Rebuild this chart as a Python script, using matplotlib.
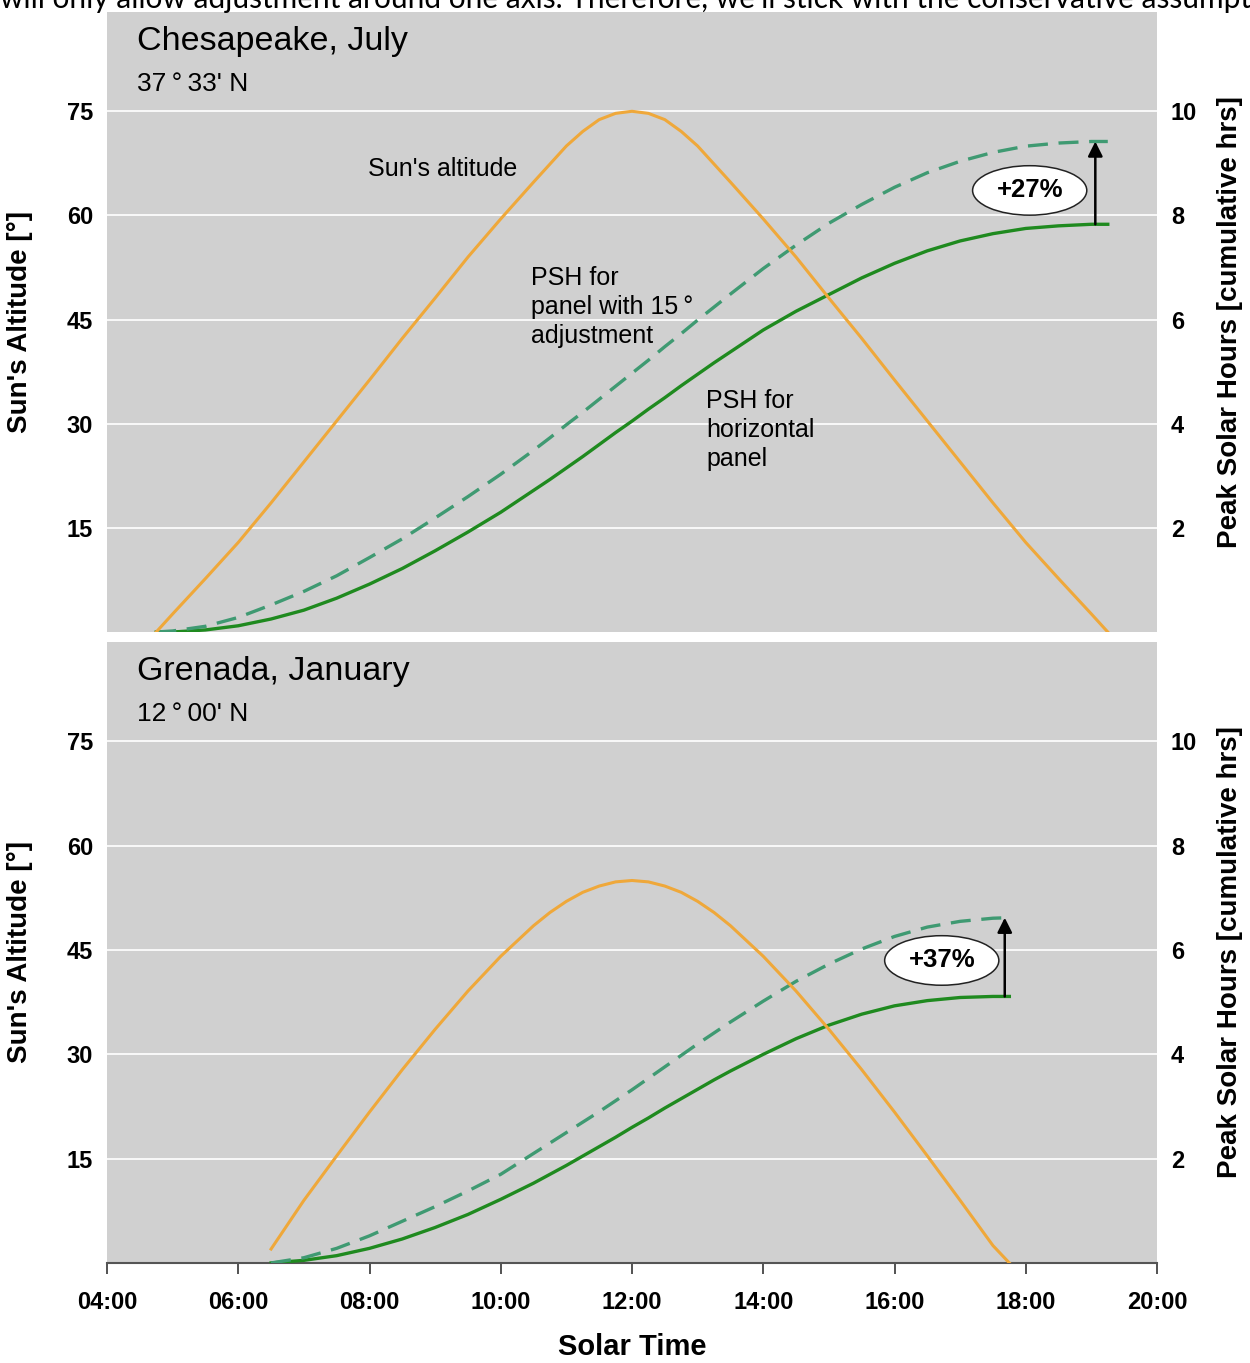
import matplotlib
matplotlib.use("Agg")
import matplotlib.pyplot as plt
from matplotlib.patches import Ellipse

# --- data ------------------------------------------------------------------
# Chesapeake, July
ches_time = [4.75, 5.0, 5.5, 6.0, 6.5, 7.0, 7.5, 8.0, 8.5, 9.0, 9.5, 10.0, 10.5, 10.75,
             11.0, 11.25, 11.5, 11.75, 12.0, 12.25, 12.5, 12.75, 13.0, 13.25, 13.5,
             14.0, 14.5, 15.0, 15.5, 16.0, 16.5, 17.0, 17.5, 18.0, 18.5, 19.0, 19.25]
ches_alt = [0, 2.6, 7.7, 12.9, 18.6, 24.5, 30.4, 36.3, 42.3, 48.1, 54.0, 59.5, 64.8, 67.4,
            70.0, 72.1, 73.8, 74.7, 75.0, 74.7, 73.8, 72.1, 70.0, 67.4, 64.8,
            59.5, 54.0, 48.1, 42.3, 36.3, 30.4, 24.5, 18.6, 12.9, 7.7, 2.6, 0]
ches_psh_flat = [0, 0.0, 0.04, 0.12, 0.25, 0.42, 0.65, 0.92, 1.22, 1.56, 1.92, 2.30, 2.72, 2.93,
                 3.15, 3.37, 3.60, 3.83, 4.05, 4.28, 4.50, 4.73, 4.95, 5.17, 5.38,
                 5.80, 6.16, 6.48, 6.80, 7.08, 7.32, 7.51, 7.65, 7.75, 7.80, 7.83, 7.83]
ches_psh_tilt = [0, 0.02, 0.11, 0.28, 0.52, 0.78, 1.08, 1.43, 1.79, 2.19, 2.60, 3.03, 3.49, 3.73,
                 3.98, 4.22, 4.47, 4.72, 4.97, 5.22, 5.48, 5.73, 5.99, 6.24, 6.49,
                 6.98, 7.43, 7.85, 8.21, 8.54, 8.82, 9.04, 9.21, 9.33, 9.39, 9.42, 9.42]

# Grenada, January
gren_time = [6.5, 7.0, 7.5, 8.0, 8.5, 9.0, 9.5, 10.0, 10.5, 10.75, 11.0, 11.25, 11.5, 11.75,
             12.0, 12.25, 12.5, 12.75, 13.0, 13.25, 13.5, 14.0, 14.5, 15.0, 15.5, 16.0,
             16.5, 17.0, 17.5, 17.75]
gren_alt = [2.0, 9.0, 15.4, 21.7, 27.8, 33.6, 39.1, 44.1, 48.5, 50.4, 52.0, 53.3, 54.2, 54.8,
            55.0, 54.8, 54.2, 53.3, 52.0, 50.4, 48.5, 44.1, 39.1, 33.6, 27.8, 21.7,
            15.4, 9.0, 2.5, 0]
gren_psh_flat = [0, 0.05, 0.14, 0.28, 0.46, 0.68, 0.93, 1.22, 1.53, 1.70, 1.87, 2.05, 2.23, 2.41,
                 2.60, 2.78, 2.97, 3.15, 3.33, 3.51, 3.68, 4.00, 4.30, 4.56, 4.77, 4.93,
                 5.03, 5.09, 5.11, 5.11]
gren_psh_tilt = [0, 0.10, 0.28, 0.52, 0.80, 1.08, 1.38, 1.70, 2.10, 2.30, 2.50, 2.70, 2.90, 3.11,
                 3.32, 3.54, 3.76, 3.98, 4.20, 4.41, 4.62, 5.02, 5.40, 5.73, 6.02, 6.26,
                 6.44, 6.55, 6.61, 6.62]

alt_ticks = [15, 30, 45, 60, 75]
psh_ticks = [2, 4, 6, 8, 10]
hour_ticks = [4, 6, 8, 10, 12, 14, 16, 18, 20]
hour_labels = ["%02d:00" % h for h in hour_ticks]

ORANGE = "#efa83a"
GREEN = "#1f8a1f"
TEAL = "#3f9a72"
BG = "#d0d0d0"
BOLD = dict(family=["Liberation Sans Narrow", "Liberation Sans", "DejaVu Sans"],
            weight="bold")
REG = ["Liberation Sans", "DejaVu Sans"]

ALT_MAX = 89.3
PSH_MAX = ALT_MAX * 10 / 75

fig = plt.figure(figsize=(12.5, 13.63), dpi=100)

# clipped line of page text at the very top
fig.text(0.0, 1 - 8 / 1363,
         "will only allow adjustment around one axis. Therefore, we'll stick with the conservative assumpt",
         family=["Lato", "DejaVu Sans"], fontsize=21.5, va="baseline", ha="left")


def panel(rect, title, lat, t, alt, flat, tilt, pct, arrow_x, ell_xy, bottom):
    ax = fig.add_axes(rect)
    ax.set_facecolor(BG)
    ax.set_xlim(4, 20)
    ax.set_ylim(0, ALT_MAX)
    for s in ax.spines.values():
        s.set_visible(False)
    ax.set_yticks(alt_ticks)
    ax.yaxis.grid(True, color="white", lw=1.2)
    ax.set_axisbelow(True)
    ax.tick_params(axis="y", length=0, pad=10, labelsize=17)
    for lab in ax.get_yticklabels():
        lab.set(**BOLD)
    ax.set_ylabel("Sun's Altitude [°]", fontsize=20, labelpad=24, **BOLD)

    if bottom:
        ax.spines["bottom"].set_visible(True)
        ax.spines["bottom"].set_color("#555555")
        ax.spines["bottom"].set_linewidth(1.5)
        ax.set_xticks(hour_ticks)
        ax.set_xticklabels(hour_labels)
        ax.tick_params(axis="x", length=8, width=1.3, color="#444444", pad=12, labelsize=17)
        for lab in ax.get_xticklabels():
            lab.set(**BOLD)
        ax.set_xlabel("Solar Time", fontsize=21, labelpad=14, **BOLD)
    else:
        ax.tick_params(axis="x", bottom=False, labelbottom=False)

    ax2 = ax.twinx()
    ax2.set_ylim(0, PSH_MAX)
    for s in ax2.spines.values():
        s.set_visible(False)
    ax2.set_yticks(psh_ticks)
    ax2.tick_params(axis="y", length=0, pad=10, labelsize=17)
    for lab in ax2.get_yticklabels():
        lab.set(**BOLD)
    ax2.set_ylabel("Peak Solar Hours [cumulative hrs]", fontsize=20, labelpad=14, **BOLD)

    ax2.plot(t, flat, color=GREEN, lw=2.4, zorder=3)
    ax2.plot(t, tilt, color=TEAL, lw=2.4, ls=(0, (6, 3.2)), zorder=3)
    ax2.plot(t, [a * 10 / 75 for a in alt], color=ORANGE, lw=2.2, zorder=4)

    ax.text(0.0286, 0.952, title, transform=ax.transAxes, fontsize=24.5,
            family=REG, va="center", ha="left")
    ax.text(0.0286, 0.884, lat, transform=ax.transAxes, fontsize=19,
            family=REG, va="center", ha="left")

    ax2.annotate("", xy=(arrow_x, tilt[-1]), xytext=(arrow_x, flat[-1]),
                 arrowprops=dict(arrowstyle="-|>", color="black", lw=1.8,
                                 mutation_scale=22, shrinkA=0, shrinkB=0), zorder=5)
    ax2.add_patch(Ellipse(ell_xy, 1.74, 0.95, facecolor="white",
                          edgecolor="#222222", lw=1.1, zorder=5))
    ax2.text(ell_xy[0], ell_xy[1], pct, fontsize=18.5, ha="center", va="center",
             zorder=6, **BOLD)
    return ax, ax2


top_ax, top_ax2 = panel([0.0856, 0.5363, 0.84, 0.4549], "Chesapeake, July",
                        "37\u2009°\u200933' N",
                        ches_time, ches_alt, ches_psh_flat, ches_psh_tilt, "+27%",
                        19.06, (18.06, 8.48), False)
bot_ax, bot_ax2 = panel([0.0856, 0.0734, 0.84, 0.4556], "Grenada, January",
                        "12\u2009°\u200900' N",
                        gren_time, gren_alt, gren_psh_flat, gren_psh_tilt, "+37%",
                        17.68, (16.72, 5.80), True)

top_ax.text(7.98, 66.7, "Sun's altitude", fontsize=18, family=REG, va="center", ha="left")
top_ax.text(10.46, 46.8, "PSH for\npanel with 15\u2009°\nadjustment", fontsize=18,
            family=REG, va="center", ha="left", linespacing=1.28)
top_ax.text(13.13, 29.1, "PSH for\nhorizontal\npanel", fontsize=18,
            family=REG, va="center", ha="left", linespacing=1.28)

fig.savefig("out.png", dpi=100)
